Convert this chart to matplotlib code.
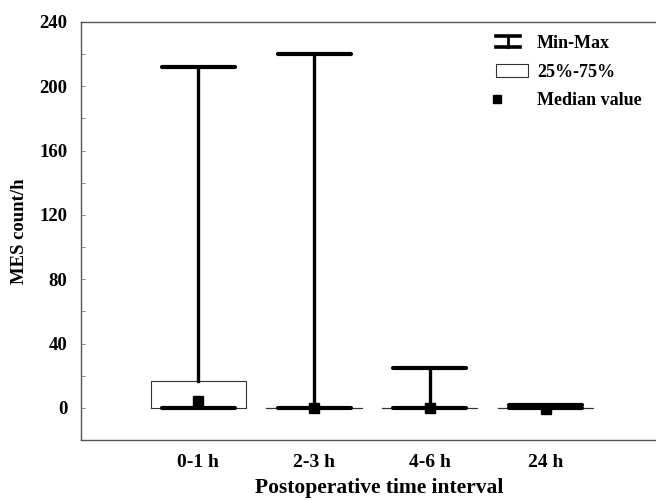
import numpy as np
import matplotlib
matplotlib.use('Agg')
import matplotlib.pyplot as plt
from matplotlib.legend_handler import HandlerBase
from matplotlib.lines import Line2D
from matplotlib.patches import Rectangle

intervals = ['0-1 h', '2-3 h', '4-6 h', '24 h']
mins = [0, 0, 0, 0]
q1s = [0, 0, 0, 0]
medians = [4, 0, 0, -1]
q3s = [17, 0, 0, 0]
maxs = [212, 220, 25, 1.5]

plt.rcParams['font.family'] = ['Liberation Serif', 'DejaVu Serif']
plt.rcParams['font.weight'] = 'bold'
plt.rcParams['axes.labelweight'] = 'bold'
plt.rcParams['font.size'] = 13.5


class MinMaxHandler(HandlerBase):
    # I-beam icon for the legend
    def create_artists(self, legend, orig_handle, xdescent, ydescent, width, height, fontsize, trans):
        w = width * 0.75
        x0, x1 = -xdescent, -xdescent + w
        y0, y1 = -ydescent + 0.1 * height, -ydescent + 0.95 * height
        xm = (x0 + x1) / 2
        arts = [Line2D([x0, x1], [y1, y1], color='k', lw=2.6),
                Line2D([x0, x1], [y0, y0], color='k', lw=2.6),
                Line2D([xm, xm], [y0, y1], color='k', lw=2)]
        for a in arts:
            a.set_transform(trans)
        return arts


stats = []
for lab, lo, a, m, b, hi in zip(intervals, mins, q1s, medians, q3s, maxs):
    stats.append(dict(label=lab, whislo=lo, q1=a, med=m, mean=m, q3=b, whishi=hi, fliers=[]))

fig = plt.figure(figsize=(6.56, 5.0), dpi=100)
ax = fig.add_axes([0.1235, 0.12, 0.8765, 0.836])

pos = np.arange(1, len(intervals) + 1)
ax.bxp(stats, positions=pos, widths=0.82, capwidths=0.63, showfliers=False, showmeans=True,
       boxprops=dict(color='#333333', linewidth=0.8),
       whiskerprops=dict(color='k', linewidth=2.4),
       capprops=dict(color='k', linewidth=3.0, solid_capstyle='round'),
       medianprops=dict(linewidth=0),
       meanprops=dict(marker='s', markerfacecolor='k', markeredgecolor='k', markersize=7))

ax.set_xlim(-0.01, 4.95)
ax.set_ylim(-20, 240)
ax.set_yticks(np.arange(0, 241, 40))
ax.set_yticks(np.arange(-20, 241, 20), minor=True)
ax.tick_params(axis='y', which='both', direction='in', length=3, width=0.6, color='#777777', pad=10)
ax.tick_params(axis='x', length=0, pad=10, labelsize=14)
ax.set_xticks(pos)
ax.set_xticklabels(intervals)

for s in ['left', 'top', 'bottom']:
    ax.spines[s].set_color('#555555')
    ax.spines[s].set_linewidth(1.0)
ax.spines['right'].set_visible(False)

ax.set_ylabel('MES count/h', labelpad=8)
ax.set_xlabel('Postoperative time interval', fontsize=15.5)
ax.xaxis.set_label_coords(0.518, -0.092)

h_minmax = Line2D([], [])
h_box = Rectangle((0, 0), 1, 1, facecolor='white', edgecolor='#333333', linewidth=0.8)
h_med = Line2D([], [], linestyle='none', marker='s', color='k', markersize=6)
leg = ax.legend([h_minmax, h_box, h_med], ['Min-Max', '25%-75%', 'Median value'],
                handler_map={h_minmax: MinMaxHandler()}, loc='upper left', frameon=False,
                bbox_to_anchor=(0.71, 0.985), borderaxespad=0, handlelength=1.75,
                labelspacing=0.62, handletextpad=0.5, fontsize=13)
leg.legend_handles[2].set_xdata([0.35])

fig.savefig('out.png', dpi=100)
